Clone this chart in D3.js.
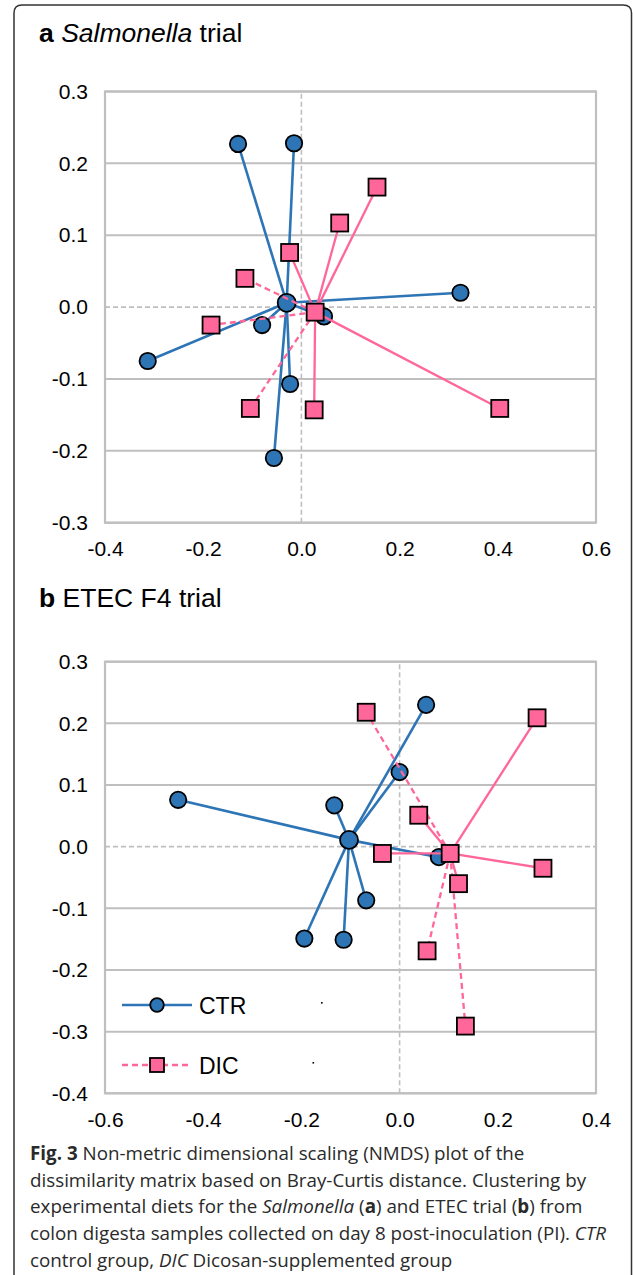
<!DOCTYPE html>
<html>
<head>
<meta charset="utf-8">
<script src="https://cdn.jsdelivr.net/npm/d3@7"></script>
<style>
  body { margin: 0; background: #fff; }
  svg { display: block; }
</style>
</head>
<body>
<svg id="fig" width="633" height="1275"></svg>
<script>
// panel a - Salmonella trial, [NMDS1, NMDS2]
var ctrA = [[-0.129, 0.227], [-0.015, 0.228], [0.324, 0.020], [-0.080, -0.025],
            [-0.313, -0.075], [-0.023, -0.107], [-0.056, -0.210], [0.046, -0.013]]
var ctrCentreA = [-0.030, 0.006]
var dicA = [[0.154, 0.167], [0.078, 0.117], [-0.024, 0.076], [-0.115, 0.040],
            [-0.184, -0.025], [-0.104, -0.141], [0.026, -0.143], [0.404, -0.141]]
var dicCentreA = [0.028, -0.007]
var dicDashA = [false, false, false, true, true, true, false, false]

// panel b - ETEC F4 trial
var ctrB = [[0.054, 0.230], [0.000, 0.121], [-0.451, 0.076], [-0.133, 0.067],
            [0.080, -0.017], [-0.068, -0.087], [-0.194, -0.149], [-0.114, -0.151]]
var ctrCentreB = [-0.103, 0.011]
var dicB = [[-0.068, 0.218], [0.280, 0.209], [0.039, 0.051], [-0.035, -0.011],
            [0.292, -0.035], [0.120, -0.060], [0.056, -0.169], [0.134, -0.291]]
var dicCentreB = [0.103, -0.011]
var dicDashB = [true, false, false, false, false, false, true, true]

var xTicksA = [-0.4, -0.2, 0.0, 0.2, 0.4, 0.6]
var yTicksA = [0.3, 0.2, 0.1, 0.0, -0.1, -0.2, -0.3]
var xTicksB = [-0.6, -0.4, -0.2, 0.0, 0.2, 0.4]
var yTicksB = [0.3, 0.2, 0.1, 0.0, -0.1, -0.2, -0.3, -0.4]

var legendNames = ["CTR", "DIC"]

var blue = "#2E75B6", pink = "#FF6699", grid = "#BFBFBF"
var font = "'Liberation Sans', Arial, sans-serif"

var svg = d3.select("#fig")

// outer frame, rounded at top
svg.append("path")
   .attr("d", "M14,1276 L14,13 Q14,5 22,5 L623,5 Q631.5,5 631.5,13 L631.5,1276")
   .attr("fill", "none")
   .attr("stroke", "#333")
   .attr("stroke-width", 1.5)

function panel(opt){
    var x = d3.scaleLinear().domain(opt.xDomain).range([105, 596])
    var y = d3.scaleLinear().domain(opt.yDomain).range(opt.yRange)
    var g = svg.append("g")

    // horizontal grid (0 is dashed)
    g.selectAll(".grid").data(opt.yTicks.filter(d => d !== 0)).enter()
      .append("line")
      .attr("x1", x.range()[0]).attr("x2", x.range()[1])
      .attr("y1", d => y(d)).attr("y2", d => y(d))
      .attr("stroke", grid).attr("stroke-width", 2)

    g.append("line")
      .attr("x1", x.range()[0]).attr("x2", x.range()[1])
      .attr("y1", y(0)).attr("y2", y(0))
      .attr("stroke", grid).attr("stroke-width", 1.6).attr("stroke-dasharray", "5,3")
    g.append("line")
      .attr("x1", x(0)).attr("x2", x(0))
      .attr("y1", y.range()[0]).attr("y2", y.range()[1])
      .attr("stroke", grid).attr("stroke-width", 1.6).attr("stroke-dasharray", "5,3")

    g.append("rect")
      .attr("x", x.range()[0]).attr("y", y.range()[1])
      .attr("width", x.range()[1] - x.range()[0])
      .attr("height", y.range()[0] - y.range()[1])
      .attr("fill", "none").attr("stroke", grid).attr("stroke-width", 2.2)

    // axes, labels only
    var yAxis = g.append("g").attr("transform", "translate(105,0)")
      .call(d3.axisLeft(y).tickValues(opt.yTicks).tickSize(0).tickPadding(17)
              .tickFormat(d => d.toFixed(1)))
    var xAxis = g.append("g").attr("transform", "translate(0," + y.range()[0] + ")")
      .call(d3.axisBottom(x).tickValues(opt.xTicks).tickSize(0).tickPadding(18.5)
              .tickFormat(d => d.toFixed(1)))
    ;[yAxis, xAxis].forEach(function(a){
        a.select(".domain").remove()
        a.selectAll("text").attr("font-family", font).attr("font-size", 21).attr("fill", "#000")
    })

    // CTR spokes + markers
    var ctrPts = opt.ctr.concat([opt.ctrCentre])
    g.selectAll(".ctrLine").data(opt.ctr).enter().append("line")
      .attr("x1", x(opt.ctrCentre[0])).attr("y1", y(opt.ctrCentre[1]))
      .attr("x2", d => x(d[0])).attr("y2", d => y(d[1]))
      .attr("stroke", blue).attr("stroke-width", 2.6)
    g.selectAll(".ctrDot").data(ctrPts).enter().append("circle")
      .attr("cx", d => x(d[0])).attr("cy", d => y(d[1]))
      .attr("r", (d, i) => i === ctrPts.length - 1 ? 9 : 8.2)
      .attr("fill", blue).attr("stroke", "#000").attr("stroke-width", 1.8)

    // DIC spokes + markers
    var dicPts = opt.dic.concat([opt.dicCentre])
    g.selectAll(".dicLine").data(opt.dic).enter().append("line")
      .attr("x1", x(opt.dicCentre[0])).attr("y1", y(opt.dicCentre[1]))
      .attr("x2", d => x(d[0])).attr("y2", d => y(d[1]))
      .attr("stroke", pink).attr("stroke-width", 2.3)
      .attr("stroke-dasharray", (d, i) => opt.dicDash[i] ? "6,4" : null)
    g.selectAll(".dicBox").data(dicPts).enter().append("rect")
      .attr("x", d => x(d[0]) - 8.5).attr("y", d => y(d[1]) - 8.5)
      .attr("width", 17).attr("height", 17)
      .attr("fill", pink).attr("stroke", "#000").attr("stroke-width", 1.8)

    return {x: x, y: y}
}

function title(yPos, parts){
    var t = svg.append("text").attr("x", 39).attr("y", yPos)
       .attr("font-family", font).attr("font-size", 26.5).attr("fill", "#000")
    parts.forEach(function(p){
        t.append("tspan").text(p[0])
         .attr("font-weight", p[1] === "b" ? "bold" : null)
         .attr("font-style", p[1] === "i" ? "italic" : null)
    })
}

title(41.7, [["a", "b"], [" "], ["Salmonella", "i"], [" trial"]])
panel({xDomain: [-0.4, 0.6], yDomain: [-0.3, 0.3], yRange: [522.7, 91.5],
       xTicks: xTicksA, yTicks: yTicksA,
       ctr: ctrA, ctrCentre: ctrCentreA, dic: dicA, dicCentre: dicCentreA, dicDash: dicDashA})

title(606.7, [["b", "b"], [" ETEC F4 trial"]])
panel({xDomain: [-0.6, 0.4], yDomain: [-0.4, 0.3], yRange: [1093.3, 661.7],
       xTicks: xTicksB, yTicks: yTicksB,
       ctr: ctrB, ctrCentre: ctrCentreB, dic: dicB, dicCentre: dicCentreB, dicDash: dicDashB})

// legend inside panel b
var legend = svg.append("g")
legendNames.forEach(function(name, i){
    var ly = 1005 + i * 60
    var row = legend.append("g")
    row.append("line").attr("x1", 122).attr("x2", 192).attr("y1", ly).attr("y2", ly)
       .attr("stroke", i === 0 ? blue : pink).attr("stroke-width", i === 0 ? 2.6 : 2.3)
       .attr("stroke-dasharray", i === 0 ? null : "6,4")
    if (i === 0){
        row.append("circle").attr("cx", 157).attr("cy", ly).attr("r", 6.8)
           .attr("fill", blue).attr("stroke", "#000").attr("stroke-width", 1.8)
    } else {
        row.append("rect").attr("x", 150).attr("y", ly - 7).attr("width", 14).attr("height", 14)
           .attr("fill", pink).attr("stroke", "#000").attr("stroke-width", 1.8)
    }
    row.append("text").attr("x", 199).attr("y", ly + 9).text(name)
       .attr("font-family", font).attr("font-size", 23).attr("fill", "#000")
    // stray empty legend entries
    row.append("rect").attr("x", 321 - i * 8.5).attr("y", ly - 3).attr("width", 1.6).attr("height", 1.6)
       .attr("fill", "#000")
})

// caption
var capFont = "'Open Sans', 'Noto Sans', sans-serif"
var caption = [
    [["Fig. 3", "b"], [" Non-metric dimensional scaling (NMDS) plot of the"]],
    [["dissimilarity matrix based on Bray-Curtis distance. Clustering by"]],
    [["experimental diets for the "], ["Salmonella", "i"], [" ("], ["a", "b"], [") and ETEC trial ("], ["b", "b"], [") from"]],
    [["colon digesta samples collected on day 8 post-inoculation (PI). "], ["CTR", "i"]],
    [["control group, "], ["DIC", "i"], [" Dicosan-supplemented group"]]
]
caption.forEach(function(line, i){
    var t = svg.append("text").attr("x", 30).attr("y", 1160 + i * 26.7)
       .attr("font-family", capFont).attr("font-size", 18.8).attr("fill", "#2a2a2a")
    line.forEach(function(p){
        t.append("tspan").text(p[0])
         .attr("font-weight", p[1] === "b" ? "bold" : null)
         .attr("font-style", p[1] === "i" ? "italic" : null)
    })
})
</script>
</body>
</html>
